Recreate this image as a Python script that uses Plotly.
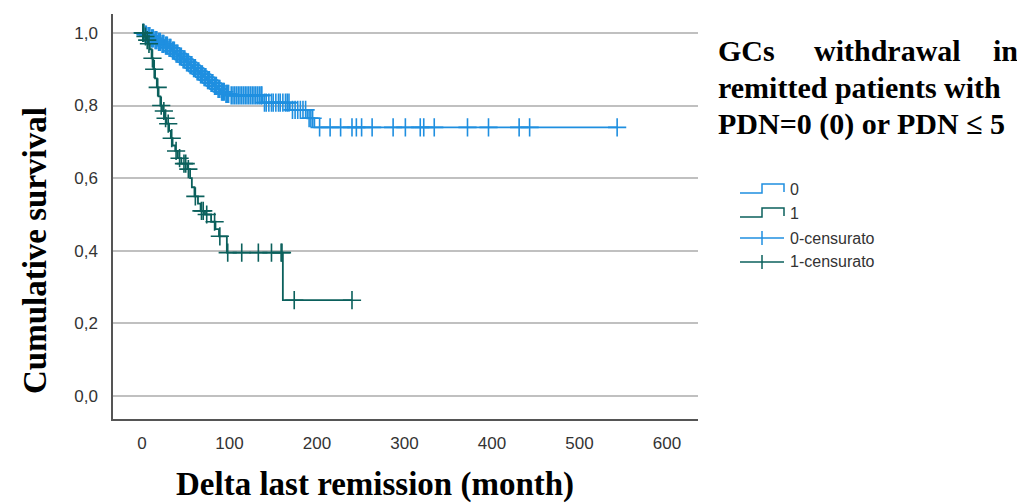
import plotly.graph_objects as go

# ---------------- data ----------------
# Group "0": Kaplan-Meier steps (time in months, cumulative survival after the step)
times0 = [0, 3, 6, 10, 14, 18, 22, 26, 30, 34, 38, 42, 46, 50, 54, 58, 62, 66, 70,
          74, 78, 82, 86, 90, 95, 100, 138, 169, 189, 197]
surv0 = [1.0, 0.995, 0.991, 0.985, 0.980, 0.975, 0.970, 0.965, 0.959, 0.951, 0.943,
         0.935, 0.927, 0.919, 0.911, 0.903, 0.894, 0.886, 0.878, 0.870, 0.862, 0.854,
         0.846, 0.838, 0.832, 0.828, 0.808, 0.788, 0.765, 0.740]
censor0 = [1, 2, 4, 5, 7, 8, 9, 11, 12, 13, 15, 16, 17, 19, 20, 21, 23, 24, 25, 27, 28,
           29, 31, 32, 33, 35, 36, 37, 39, 40, 41, 43, 44, 45, 47, 48, 49, 51, 52, 53,
           55, 56, 57, 59, 60, 61, 63, 64, 65, 67, 68, 69, 71, 72, 73, 75, 76, 77, 79,
           80, 81, 83, 84, 85, 87, 88, 89, 91, 92, 93, 94, 96, 97, 98, 99, 102, 104,
           106, 108, 110, 112, 114, 116, 118, 120, 122, 124, 126, 128, 130, 132, 134,
           136, 137, 140, 142, 145, 148, 150, 153, 156, 158, 161, 164, 166, 168, 172,
           175, 178, 181, 184, 187, 191, 193, 195, 203, 215, 227, 240, 245, 251, 263,
           287, 301, 318, 322, 334, 372, 396, 431, 443, 543]

# Group "1"
times1 = [0, 3, 5, 7, 9, 11, 13, 15, 17, 19, 21, 24, 26, 28, 31, 33, 35, 38, 41, 45,
          52, 55, 57, 60, 64, 67, 72, 79, 84, 88, 97, 161]
surv1 = [1.0, 0.99, 0.98, 0.97, 0.955, 0.93, 0.90, 0.875, 0.85, 0.825, 0.80, 0.785,
         0.765, 0.75, 0.73, 0.71, 0.69, 0.675, 0.655, 0.64, 0.625, 0.60, 0.575, 0.55,
         0.53, 0.51, 0.50, 0.48, 0.46, 0.44, 0.395, 0.264]
censor1 = [1, 2, 4, 6, 8, 12, 14, 18, 22, 25, 27, 30, 34, 39, 43, 48, 50, 53, 61, 68,
           70, 74, 83, 89, 98, 114, 133, 148, 159, 160, 174, 240]

x_ticks = [0, 100, 200, 300, 400, 500, 600]
x_ticklabels = ["0", "100", "200", "300", "400", "500", "600"]
y_ticks = [0.0, 0.2, 0.4, 0.6, 0.8, 1.0]
y_ticklabels = ["0,0", "0,2", "0,4", "0,6", "0,8", "1,0"]

group_names = ["0", "1"]
censor_names = ["0-censurato", "1-censurato"]

# ---------------- style ----------------
COL0 = "#1f8fe0"
COL1 = "#0b605c"
OFF = 8                      # the page body margin shifts the figure by 8px
W, H = 1025 - OFF, 504 - OFF
# plot area in target-picture pixels
L, R, T, B = 113, 698, 14, 419


def level_at(times, surv, t):
    val = surv[0]
    for ti, si in zip(times, surv):
        if ti <= t:
            val = si
    return val


def px2x(px):
    return (px - L) / (R - L)


def px2y(py):
    return (B - py) / (B - T)


fig = go.Figure()
series = [(times0, surv0, censor0, COL0), (times1, surv1, censor1, COL1)]
for (tt, ss, cc, col), gname, cname in zip(series, group_names, censor_names):
    xs = list(tt) + [max(cc)]
    ys = list(ss) + [ss[-1]]
    fig.add_trace(go.Scatter(x=xs, y=ys, mode="lines", line=dict(color=col, width=1.8, shape="hv"),
                             name=gname, showlegend=False, hoverinfo="skip"))
    fig.add_trace(go.Scatter(x=cc, y=[level_at(tt, ss, c) for c in cc], mode="markers",
                             marker=dict(symbol="cross-thin", size=13,
                                         line=dict(color=col, width=1.6), color=col),
                             name=cname, showlegend=False))

font_axis = dict(family="Liberation Sans, Arial, sans-serif", size=17, color="#333333")

fig.update_layout(
    width=W, height=H,
    margin=dict(l=L - OFF, r=(W + OFF) - R, t=T - OFF, b=(H + OFF) - B, pad=0),
    paper_bgcolor="white", plot_bgcolor="white",
    showlegend=False,
    xaxis=dict(range=[-33.1, 635.4], tickvals=x_ticks, ticktext=x_ticklabels,
               showgrid=False, zeroline=False, showline=True, linecolor="#555555",
               linewidth=1.5, ticks="", ticklabelstandoff=8, tickfont=font_axis),
    yaxis=dict(range=[-0.063, 1.052], tickvals=y_ticks, ticktext=y_ticklabels,
               showgrid=True, gridcolor="#c0c0c0", gridwidth=1.5, zeroline=False,
               showline=True, linecolor="#555555", linewidth=1.5, ticks="",
               ticklabelstandoff=10, tickfont=font_axis),
)

serif_bold = dict(family="Liberation Serif, Times New Roman, serif", size=33, color="black")
title_font = dict(family="Liberation Serif, Times New Roman, serif", size=30, color="black")

ann = []
ann.append(dict(text="<b>Cumulative survival</b>", x=px2x(35), y=px2y(251), xref="paper", yref="paper",
                textangle=-90, showarrow=False, xanchor="center", yanchor="middle", font=serif_bold))
ann.append(dict(text="<b>Delta last remission (month)</b>", x=px2x(375), y=px2y(484), xref="paper",
                yref="paper", showarrow=False, xanchor="center", yanchor="middle", font=serif_bold,
                borderpad=0))
# justified title on the right
ann.append(dict(text="<b>GCs</b>", x=px2x(716), y=px2y(50), xref="paper", yref="paper",
                showarrow=False, xanchor="left", yanchor="middle", font=title_font))
ann.append(dict(text="<b>withdrawal</b>", x=px2x(887), y=px2y(50), xref="paper", yref="paper",
                showarrow=False, xanchor="center", yanchor="middle", font=title_font))
ann.append(dict(text="<b>in</b>", x=px2x(1019), y=px2y(50), xref="paper", yref="paper",
                showarrow=False, xanchor="right", yanchor="middle", font=title_font, borderpad=0))
ann.append(dict(text="<b>remitted patients with</b>", x=px2x(716), y=px2y(87), xref="paper",
                yref="paper", showarrow=False, xanchor="left", yanchor="middle", font=title_font))
ann.append(dict(text="<b>PDN=0 (0) or PDN ≤ 5</b>", x=px2x(716), y=px2y(124), xref="paper",
                yref="paper", showarrow=False, xanchor="left", yanchor="middle", font=title_font))

# custom legend
legend_font = dict(family="Liberation Sans, Arial, sans-serif", size=16, color="#333333")
rows = [189, 213, 238, 262]
labels = group_names + censor_names
cols = [COL0, COL1, COL0, COL1]
a, m, b, tx = 740, 762, 784, 788
shapes = []
for i, (yc, lab, col) in enumerate(zip(rows, labels, cols)):
    if i < 2:
        path = (f"M {px2x(a)},{px2y(yc + 4)} L {px2x(m)},{px2y(yc + 4)} L {px2x(m)},{px2y(yc - 5)} "
                f"L {px2x(b)},{px2y(yc - 5)} L {px2x(b)},{px2y(yc + 3)}")
        shapes.append(dict(type="path", path=path, xref="paper", yref="paper",
                           line=dict(color=col, width=1.5)))
    else:
        shapes.append(dict(type="line", x0=px2x(a), x1=px2x(b), y0=px2y(yc), y1=px2y(yc),
                           xref="paper", yref="paper", line=dict(color=col, width=1.5)))
        shapes.append(dict(type="line", x0=px2x(m), x1=px2x(m), y0=px2y(yc - 7), y1=px2y(yc + 7),
                           xref="paper", yref="paper", line=dict(color=col, width=1.5)))
    ann.append(dict(text=lab, x=px2x(tx), y=px2y(yc), xref="paper", yref="paper", showarrow=False,
                    xanchor="left", yanchor="middle", font=legend_font))

fig.update_layout(annotations=ann, shapes=shapes)
fig.write_html("out.html")
